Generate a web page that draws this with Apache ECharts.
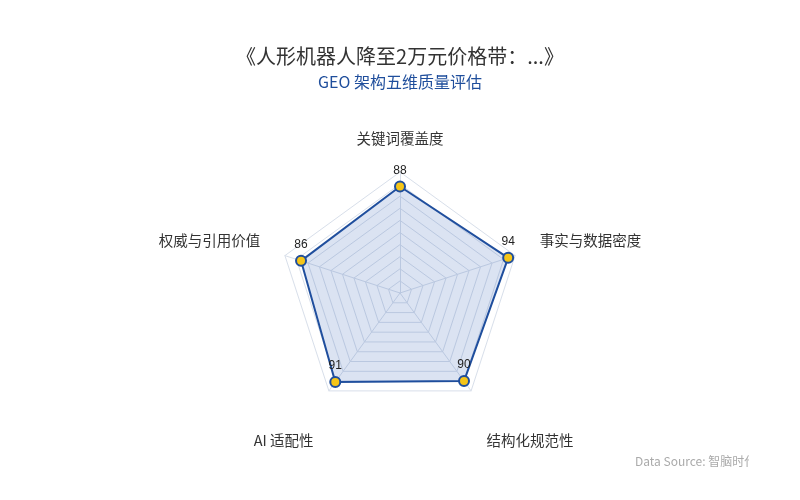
<!DOCTYPE html>
<html>
<head>
<meta charset="utf-8">
<script src="https://cdn.jsdelivr.net/npm/echarts@6/dist/echarts.min.js"></script>
<style>html,body{margin:0;padding:0;background:#fff}#c{width:800px;height:500px}</style>
</head>
<body>
<div id="c"></div>
<script>
// Dimensions listed clockwise from the top
const indicators = ['关键词覆盖度', '事实与数据密度', '结构化规范性', 'AI 适配性', '权威与引用价值'];
const scores = [88, 94, 90, 91, 86];
const maxValue = 100;

// ECharts radar runs counter-clockwise; reorder so the picture reads clockwise
const order = [0, 4, 3, 2, 1];
const ccwNames = order.map(i => indicators[i]);
const ccwScores = order.map(i => scores[i]);

// label placement styles (by clockwise position)
const nameStyleKey = ['t', 's', 'b', 'b', 's'];

const chart = echarts.init(document.getElementById('c'));
chart.setOption({
  backgroundColor: '#fff',
  title: {
    text: '《人形机器人降至2万元价格带：...》',
    subtext: 'GEO 架构五维质量评估',
    left: 'center',
    top: 41,
    itemGap: 8,
    textStyle: { fontSize: 20, fontWeight: 'normal', color: '#333', fontFamily: 'Noto Sans CJK SC' },
    subtextStyle: { fontSize: 16, color: '#1f4e9c', fontFamily: 'Noto Sans CJK SC' }
  },
  graphic: [{
    type: 'text',
    left: 635,
    top: 455,
    style: {
      text: 'Data Source: 智脑时代',
      fill: '#aaa',
      fontSize: 12,
      fontFamily: 'Noto Sans CJK SC'
    }
  }, {
    type: 'rect',
    left: 749,
    top: 450,
    shape: { width: 51, height: 25 },
    style: { fill: '#fff' },
    z: 200
  }],
  radar: {
    center: [400, 293],
    radius: 121,
    startAngle: 90,
    splitNumber: 10,
    nameGap: 26,
    indicator: ccwNames.map(n => ({ name: n, max: maxValue, min: 0 })),
    axisName: {
      color: '#333',
      fontSize: 14.5,
      fontFamily: 'Noto Sans CJK SC',
      formatter: function (name) {
        const k = nameStyleKey[indicators.indexOf(name)];
        return '{' + k + '|' + name + '}';
      },
      rich: {
        t: { fontSize: 14.5, color: '#333', fontFamily: 'Noto Sans CJK SC' },
        s: { fontSize: 14.5, color: '#333', fontFamily: 'Noto Sans CJK SC', padding: [0, 0, 15, 0] },
        b: { fontSize: 14.5, color: '#333', fontFamily: 'Noto Sans CJK SC', padding: [58, 0, 0, 0] }
      }
    },
    splitLine: { lineStyle: { color: '#d8dfea', width: 1 } },
    splitArea: { show: false },
    axisLine: { lineStyle: { color: '#d8dfea' } }
  },
  series: [{
    type: 'radar',
    symbol: 'circle',
    symbolSize: 10,
    data: [{
      value: ccwScores,
      name: 'GEO',
      label: { show: true, position: 'top', distance: 4, color: '#222', fontSize: 12 },
      lineStyle: { color: '#1f4e9c', width: 2 },
      itemStyle: { color: '#f5c518', borderColor: '#1f4e9c', borderWidth: 2 },
      areaStyle: { color: 'rgba(40,90,180,0.24)' }
    }]
  }]
});
</script>
</body>
</html>
